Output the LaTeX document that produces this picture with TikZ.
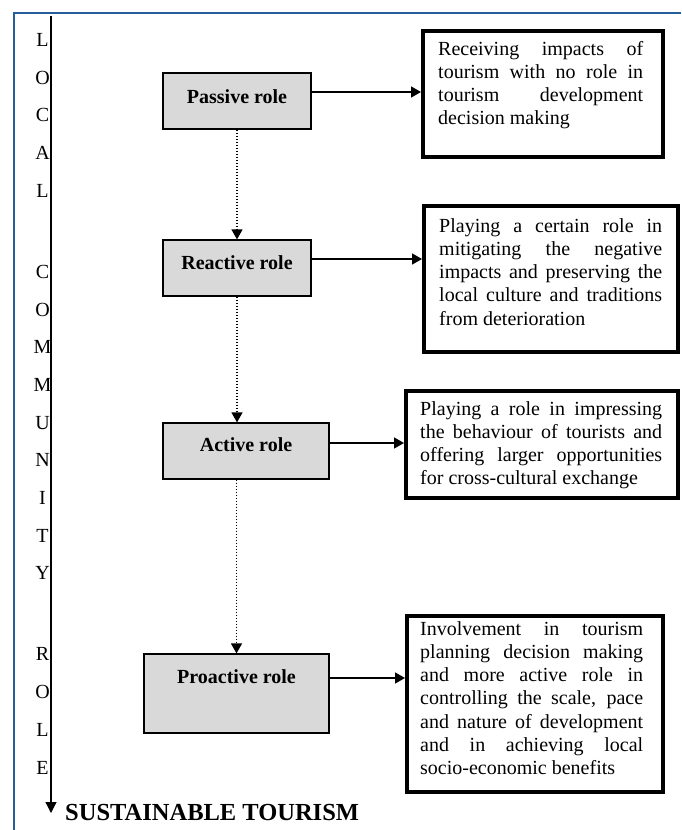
\documentclass[tikz,border=0pt]{standalone}
\usepackage{fontspec}
\setmainfont{Liberation Serif}
\usetikzlibrary{arrows.meta}
\definecolor{frameblue}{RGB}{36,94,156}
\definecolor{rolegray}{RGB}{217,217,217}

\begin{document}
\begin{tikzpicture}
  [
    x=1pt, y=-1pt,
    letter/.style={inner sep=0pt, font=\fontsize{20}{24}\selectfont},
    role/.style={draw=black, line width=1.2pt, fill=rolegray, inner sep=0pt,
      font=\fontsize{20}{24}\selectfont\bfseries},
    outbox/.style={draw=black, line width=4pt, inner sep=0pt, anchor=north west},
    outtext/.style={anchor=base west, inner sep=0pt, align=justify,
      font=\fontsize{20}{23.3}\selectfont,
      execute at begin node={\hyphenpenalty=10000\relax\tolerance=10000\relax}},
    link/.style={line width=1.5pt, -{Triangle[length=10pt,width=11pt]}},
    stage/.style={line width=1.2pt, dash pattern=on 1.5pt off 1.5pt,
      -{Triangle[length=10pt,width=11pt]}}
  ]
  \useasboundingbox (0,0) rectangle (681,830);
  % frame
  \draw[frameblue, line width=2.5pt] (14,830) -- (14,13) -- (681,13);
  % local community role axis
  \coordinate (axtop) at (51,16);
  \coordinate (axend) at (51,813);
  \draw[line width=1.2pt, -{Triangle[length=11pt,width=11pt]}] (axtop) -- (axend);
  \foreach \ch/\y [count=\i] in {L/40,O/77.7,C/115.4,A/153.1,L/190.8,
      C/271.8,O/309.5,M/347.2,M/384.9,U/422.6,N/460.3,I/498,T/535.7,Y/573.4,
      R/654.4,O/692.1,L/729.8,E/767.5} {
    \node[letter] (axis\i) at (42.5,\y) {\ch};
  }
  \node[anchor=base west, inner sep=0pt, font=\fontsize{24.5}{28}\selectfont\bfseries]
    (goal) at (65,820) {SUSTAINABLE TOURISM};
  % roles
  \node[role, minimum width=148pt, minimum height=56pt, text depth=8pt]
    (passive) at (237,101) {Passive role};
  \node[role, minimum width=148pt, minimum height=56pt, text depth=10pt]
    (reactive) at (237,268) {Reactive role};
  \node[role, minimum width=166pt, minimum height=56pt, text depth=12pt]
    (active) at (246,451) {Active role};
  \node[role, minimum width=185pt, minimum height=79pt, text depth=33pt]
    (proactive) at (236.5,693.5) {Proactive role};
  % descriptions
  \node[outbox, minimum width=240pt, minimum height=126pt] (impact1) at (421,29) {};
  \node[outtext, text width=205pt] (desc1) at (438,55)
    {Receiving impacts of\linebreak tourism with no role in\linebreak
     tourism development\linebreak decision making};
  \node[outbox, minimum width=254pt, minimum height=146pt] (impact2) at (422,204) {};
  \node[outtext, text width=223pt] (desc2) at (439,232)
    {Playing a certain role in\linebreak mitigating the negative\linebreak
     impacts and preserving the\linebreak local culture and traditions\linebreak
     from deterioration};
  \node[outbox, minimum width=272pt, minimum height=107pt] (impact3) at (404,389) {};
  \node[outtext, text width=242pt] (desc3) at (420,415)
    {Playing a role in impressing\linebreak the behaviour of tourists and\linebreak
     offering larger opportunities\linebreak for cross-cultural exchange};
  \node[outbox, minimum width=256pt, minimum height=176pt] (impact4) at (405,614) {};
  \node[outtext, text width=223pt] (desc4) at (420,635)
    {Involvement in tourism\linebreak planning decision making\linebreak
     and more active role in\linebreak controlling the scale, pace\linebreak
     and nature of development\linebreak and in achieving local\linebreak
     socio-economic benefits};
  % role to description
  \coordinate (p1) at ([yshift=9pt]passive.east);
  \coordinate (p2) at ([yshift=9pt]reactive.east);
  \coordinate (p3) at ([yshift=8pt]active.east);
  \coordinate (p4) at ([yshift=15.5pt]proactive.east);
  \draw[link] (p1) -- (p1 -| impact1.west);
  \draw[link] (p2) -- (p2 -| impact2.west);
  \draw[link] (p3) -- (p3 -| impact3.west);
  \draw[link] (p4) -- (p4 -| impact4.west);
  % role to role
  \draw[stage] (passive.south) -- (reactive.north);
  \draw[stage] (reactive.south) -- (reactive.south |- active.north);
  \draw[stage] (proactive.north |- active.south) -- (proactive.north);
\end{tikzpicture}
\end{document}
